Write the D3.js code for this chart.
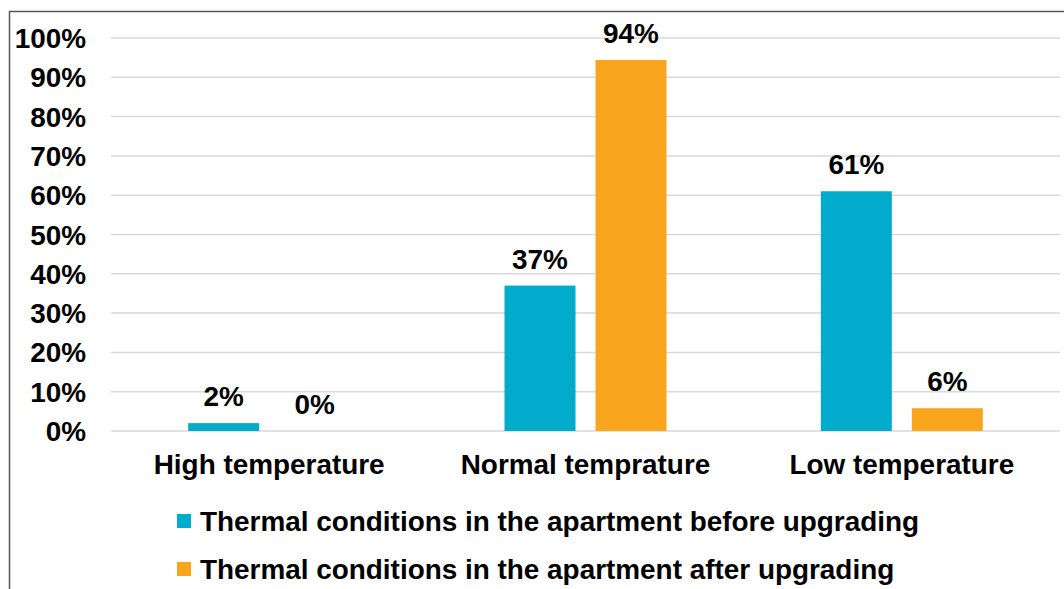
<!DOCTYPE html>
<html>
<head>
<meta charset="utf-8">
<script src="https://cdn.jsdelivr.net/npm/d3@7"></script>
<style>
  body { margin: 0; background: #fff; }
  text { font-family: "Liberation Sans", Arial, sans-serif; font-weight: bold; fill: #000; }
</style>
</head>
<body>
<script>
// categories and series
const categories = ["High temperature", "Normal temprature", "Low temperature"];
const seriesNames = [
  "Thermal conditions in the apartment before upgrading",
  "Thermal conditions in the apartment after upgrading"
];
const beforeValues = [2, 37, 61];
const afterValues = [0, 94.4, 5.8];
const yTicks = [0, 10, 20, 30, 40, 50, 60, 70, 80, 90, 100];
const colors = ["#00abcc", "#f9a61e"];

const width = 1064, height = 589;
const margin = {top: 38, right: 4, bottom: 158, left: 111};
const innerW = width - margin.left - margin.right,
      innerH = 431 - margin.top;
const fs = "27.9px";

const svg = d3.select("body").append("svg")
    .attr("width", width)
    .attr("height", height);

// outer frame
svg.append("path")
    .attr("d", "M9.5," + height + " L9.5,11.5 L" + width + ",11.5")
    .attr("fill", "none")
    .attr("stroke", "#595959")
    .attr("stroke-width", 1.5);

const g = svg.append("g")
    .attr("transform", "translate(" + margin.left + "," + margin.top + ")");

let x = d3.scaleBand().domain(categories).range([0, innerW]);
let y = d3.scaleLinear().domain([0, 100]).range([innerH, 0]);

// gridlines
g.selectAll(".grid")
    .data(yTicks)
  .enter().append("line")
    .attr("x1", 0)
    .attr("x2", innerW)
    .attr("y1", d => y(d))
    .attr("y2", d => y(d))
    .attr("stroke", "#d9d9d9")
    .attr("stroke-width", 1.5);

// y labels
g.selectAll(".ylab")
    .data(yTicks)
  .enter().append("text")
    .attr("x", -25)
    .attr("y", d => y(d) + 10)
    .attr("text-anchor", "end")
    .style("font-size", fs)
    .text(d => d + "%");

// bars
const data = categories.map((c, i) => ({cat: c, vals: [beforeValues[i], afterValues[i]]}));
const barW = 71, gap = 20;

const groups = g.selectAll(".grp")
    .data(data)
  .enter().append("g")
    .attr("transform", d => "translate(" + (x(d.cat) + x.bandwidth() / 2) + ",0)");

groups.selectAll("rect")
    .data(d => d.vals)
  .enter().append("rect")
    .attr("x", (d, i) => i === 0 ? -barW - gap / 2 : gap / 2)
    .attr("y", d => y(d))
    .attr("width", barW)
    .attr("height", d => innerH - y(d))
    .attr("fill", (d, i) => colors[i]);

groups.selectAll(".val")
    .data(d => d.vals)
  .enter().append("text")
    .attr("x", (d, i) => (i === 0 ? -barW - gap / 2 : gap / 2) + barW / 2)
    .attr("y", d => y(d) - 17)
    .attr("text-anchor", "middle")
    .style("font-size", fs)
    .text(d => Math.round(d) + "%");

// category labels
g.selectAll(".xlab")
    .data(categories)
  .enter().append("text")
    .attr("x", d => x(d) + x.bandwidth() / 2)
    .attr("y", innerH + 43)
    .attr("text-anchor", "middle")
    .style("font-size", fs)
    .text(d => d);

// legend
const legend = svg.selectAll(".leg")
    .data(seriesNames)
  .enter().append("g")
    .attr("transform", (d, i) => "translate(177," + (514 + i * 48) + ")");

legend.append("rect")
    .attr("width", 14)
    .attr("height", 14)
    .attr("fill", (d, i) => colors[i]);

legend.append("text")
    .attr("x", 23)
    .attr("y", 17)
    .style("font-size", fs)
    .text(d => d);
</script>
</body>
</html>
